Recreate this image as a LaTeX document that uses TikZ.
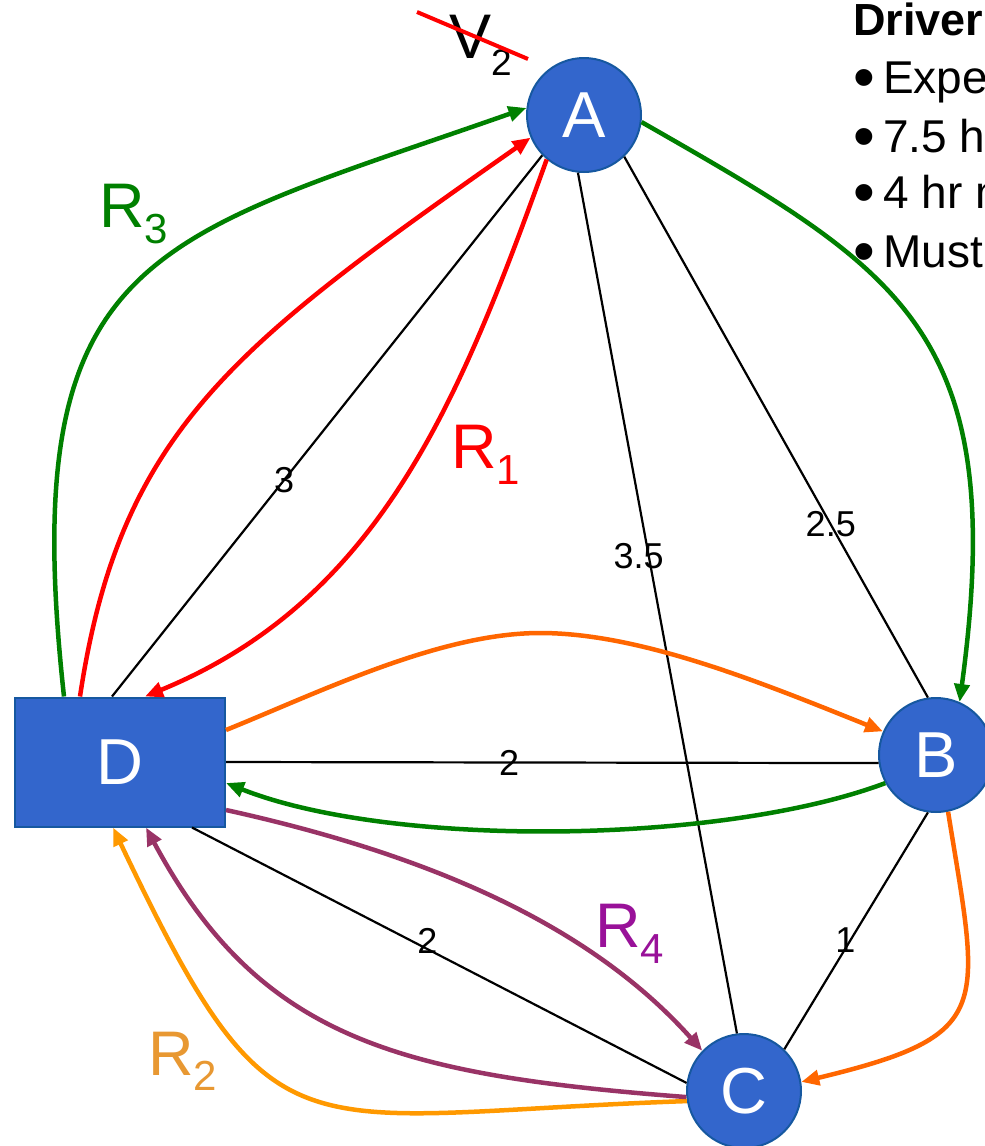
\documentclass[tikz,border=0pt]{standalone}
\usepackage{fontspec}
\setmainfont{Liberation Sans}
\usetikzlibrary{arrows.meta}
\newcommand\myfs[1]{\fontsize{#1}{#1}\selectfont}
\newcommand\bigbullet{\raisebox{-5pt}{\myfs{62}•}}
\definecolor{nodeblue}{RGB}{51,102,204}
\definecolor{nodeedge}{RGB}{22,88,160}
\definecolor{rgreen}{RGB}{0,128,0}
\definecolor{rred}{RGB}{255,0,0}
\definecolor{rorange}{RGB}{255,102,0}
\definecolor{ryellow}{RGB}{255,153,0}
\definecolor{rpurple}{RGB}{153,51,102}
\definecolor{lblpurple}{RGB}{153,17,153}
\definecolor{lblorange}{RGB}{232,152,50}
\begin{document}
\begin{tikzpicture}[x=1pt,y=-1pt,
  circnode/.style={circle,fill=nodeblue,draw=nodeedge,line width=2pt,minimum size=114pt,inner sep=0pt,text=white,font=\myfs{65}},
  boxnode/.style={rectangle,fill=nodeblue,draw=nodeedge,line width=2pt,minimum width=210pt,minimum height=129pt,inner sep=0pt,text=white,font=\myfs{65}},
  blk/.style={draw=black,line width=2.2pt},
  lbl/.style={font=\myfs{36},inner sep=0pt,text=black},
  arr/.style={line width=4.5pt,-{Triangle[length=18pt,width=15pt]}},
  rlabel/.style={anchor=base west,inner sep=0pt,font=\myfs{63}},
  txt/.style={anchor=base west,inner sep=0pt,font=\myfs{46}}
]
\useasboundingbox (0,0) rectangle (985,1146);
\clip (0,0) rectangle (985,1146);
\fill[white] (0,0) rectangle (985,1146);

\node[circnode] (A) at (584,115) {A};
\node[circnode] (B) at (936,755) {B};
\node[circnode] (C) at (744,1091) {C};
\node[boxnode] (D) at (120,762) {D};

% black undirected edges
\draw[blk] ([xshift=-8pt]D.north) -- node[lbl,pos=0.40] {3} (A.224);
\draw[blk] (A.264) -- node[lbl,pos=0.445,xshift=-10pt] {3.5} (C.97);
\draw[blk] (A.314) -- node[lbl,pos=0.68] {2.5} (B.98);
\draw[blk] (D.east) -- node[lbl,pos=0.434] {2} (B.188);
\draw[blk] ([xshift=72pt]D.south) -- node[lbl,pos=0.476,yshift=8pt] {2} (C.172);
\draw[blk] (B.262) -- node[lbl,pos=0.54,xshift=-5pt] {1} (C.46);

% R3 (green)
\draw[arr,rgreen] ([xshift=-56pt]D.north) .. controls (15,250) and (150,240) .. (A.173);
\draw[arr,rgreen] (A.353) .. controls (900,270) and (1010,330) .. (B.66);
\draw[arr,rgreen] (B.209) .. controls (720,845) and (390,848) .. ([yshift=-21pt]D.east);
% R1 (red)
\draw[arr,rred] ([xshift=-40pt]D.north) .. controls (120,430) and (235,345) .. (A.203);
\draw[arr,rred] (A.230) .. controls (460,400) and (380,600) .. ([xshift=25pt]D.north);
% R2 (orange / yellow)
\draw[arr,rorange] ([yshift=32pt]D.east) .. controls (320,692) and (440,633) .. (540,633) .. controls (640,633) and (760,682) .. (B.156);
\draw[arr,rorange] (B.282) .. controls (980,1010) and (996,1035) .. (C.9);
\draw[arr,ryellow] (C.190) .. controls (289,1115) and (276,1170) .. ([xshift=-7pt]D.south);
% R4 (purple)
\draw[arr,rpurple] ([yshift=-48pt]D.east) .. controls (430,855) and (590,925) .. (C.136);
\draw[arr,rpurple] (C.186) .. controls (400,1075) and (260,1040) .. ([xshift=26pt]D.south);

% route labels
\node[rlabel,text=rred] (r1) at (451,468) {R\raisebox{-16pt}{\myfs{42}1}};
\node[rlabel,text=rgreen] (r3) at (99,227) {R\raisebox{-16pt}{\myfs{42}3}};
\node[rlabel,text=lblorange] (r2) at (148,1075) {R\raisebox{-15pt}{\myfs{42}2}};
\node[rlabel,text=lblpurple] (r4) at (595,947) {R\raisebox{-16pt}{\myfs{42}4}};

% crossed-out V2
\node[rlabel,text=black] (v2) at (449,58) {V\raisebox{-17pt}{\myfs{37}2}};
\draw[rred,line width=4pt] (417,12) -- (528,59);

% driver text (cut at the right edge, as in the reference)
\node[anchor=base west,inner sep=0pt,font=\myfs{45}\bfseries] (t0) at (853,35) {Driver};
\node[txt] (t1) at (853,93) {\makebox[30pt][l]{\bigbullet}Expe};
\node[txt] (t2) at (853,152) {\makebox[30pt][l]{\bigbullet}7.5 h};
\node[txt] (t3) at (853,208) {\makebox[30pt][l]{\bigbullet}4 hr m};
\node[txt] (t4) at (853,267) {\makebox[30pt][l]{\bigbullet}Must};
\end{tikzpicture}
\end{document}
